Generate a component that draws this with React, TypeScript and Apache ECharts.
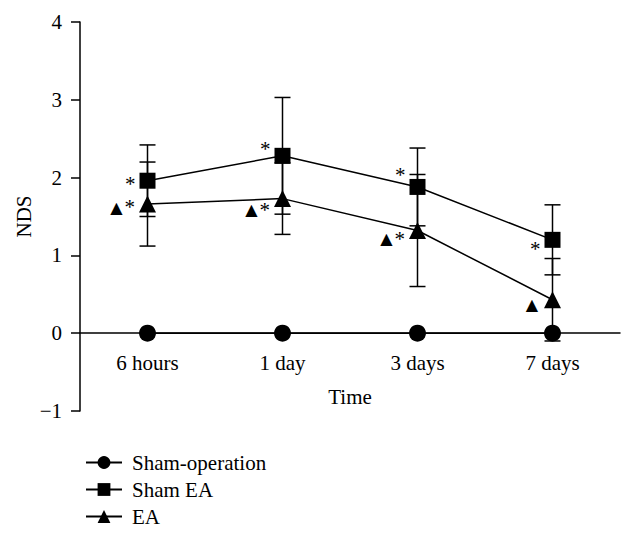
import React, { useEffect, useRef } from "react";
import * as echarts from "echarts";

const categories = ["6 hours", "1 day", "3 days", "7 days"];
const seriesNames = ["Sham-operation", "Sham EA", "EA"];
const shamOperation = [0, 0, 0, 0];
const shamEA = [1.96, 2.28, 1.88, 1.2];
const shamEASD = [0.46, 0.75, 0.5, 0.45];
const ea = [1.66, 1.73, 1.32, 0.43];
const eaSD = [0.54, 0.46, 0.72, 0.53];
const shamEAMarks = ["*", "*", "*", "*"];
const eaMarks = ["▲*", "▲*", "▲*", "▲"];
const yMin = -1;
const yMax = 4;
const yInterval = 1;

// layout / styling
const GRID_TOP = 22;
const GRID_BOTTOM = 128;
const CHART_H = 539;
const shamEAMarkOffsets = [[0, 3], [0, -7], [0, -12], [0, 9]];
const eaMarkOffsets = [[0, 3], [0, 11], [0, 8], [0, 5]];

const FONT = "Liberation Serif";
const FS = 21;

const errorRender = (params: any, api: any) => {
  const x = api.value(0);
  const lo = api.coord([x, api.value(1)]);
  const hi = api.coord([x, api.value(2)]);
  const w = 8;
  const style = { stroke: "#000", lineWidth: 1.5, fill: "none" };
  return {
    type: "group",
    children: [
      { type: "line", shape: { x1: lo[0], y1: lo[1], x2: hi[0], y2: hi[1] }, style },
      { type: "line", shape: { x1: lo[0] - w, y1: lo[1], x2: lo[0] + w, y2: lo[1] }, style },
      { type: "line", shape: { x1: hi[0] - w, y1: hi[1], x2: hi[0] + w, y2: hi[1] }, style },
    ],
  };
};

export default function App() {
  const ref = useRef<HTMLDivElement>(null);
  useEffect(() => {
    if (!ref.current) return;
    const chart = echarts.init(ref.current, undefined, { renderer: "svg" });
    const shamEAData = shamEA.map((v, i) => ({
      value: v,
      label: { formatter: shamEAMarks[i], offset: shamEAMarkOffsets[i] },
    }));
    const eaData = ea.map((v, i) => {
      const m = eaMarks[i];
      const f = m.replace("▲", "{t|▲}").replace("*", "{s|*}");
      return { value: v, label: { formatter: f, offset: eaMarkOffsets[i] } };
    });
    const gridH = CHART_H - GRID_TOP - GRID_BOTTOM;
    const zeroOffset = -(gridH * (0 - yMin)) / (yMax - yMin);
    const lineCommon = {
      type: "line",
      lineStyle: { color: "#000", width: 1.5 },
      itemStyle: { color: "#000" },
      z: 5,
    };
    chart.setOption({
      animation: false,
      textStyle: { fontFamily: FONT, color: "#000" },
      grid: { left: 80, right: 14, top: GRID_TOP, bottom: GRID_BOTTOM },
      xAxis: {
        type: "category",
        data: categories,
        name: "Time",
        nameLocation: "middle",
        nameGap: 53,
        nameMoveOverlap: false,
        offset: zeroOffset,
        nameTextStyle: { fontFamily: FONT, fontSize: FS, color: "#000" },
        axisLine: { onZero: false, lineStyle: { color: "#000", width: 1.5 } },
        axisTick: { show: true, alignWithLabel: true, length: 6, lineStyle: { color: "#000", width: 1.5 } },
        axisLabel: { fontFamily: FONT, fontSize: FS, color: "#000", margin: 19 },
      },
      yAxis: {
        type: "value",
        min: yMin,
        max: yMax,
        interval: yInterval,
        name: "NDS",
        nameLocation: "middle",
        nameGap: 46,
        nameMoveOverlap: false,
        nameTextStyle: { fontFamily: FONT, fontSize: FS, color: "#000" },
        splitLine: { show: false },
        axisLine: { show: true, lineStyle: { color: "#000", width: 1.5 } },
        axisTick: { show: true, length: 9, lineStyle: { color: "#000", width: 1.5 } },
        axisLabel: {
          fontFamily: FONT,
          fontSize: FS,
          color: "#000",
          margin: 18,
          formatter: (v: number) => (v < 0 ? "\u2212" + Math.abs(v) : String(v)),
        },
      },
      legend: {
        orient: "vertical",
        left: 80,
        top: 447,
        itemGap: 6,
        itemWidth: 36,
        itemHeight: 16,
        data: seriesNames,
        textStyle: { fontFamily: FONT, fontSize: FS, color: "#000", padding: [0, 0, 0, 5] },
      },
      series: [
        {
          name: "Sham EA error",
          type: "custom",
          renderItem: errorRender,
          data: shamEA.map((v, i) => [i, v - shamEASD[i], v + shamEASD[i]]),
          encode: { x: 0, y: [1, 2] },
          z: 2,
          silent: true,
        },
        {
          name: "EA error",
          type: "custom",
          renderItem: errorRender,
          data: ea.map((v, i) => [i, v - eaSD[i], v + eaSD[i]]),
          encode: { x: 0, y: [1, 2] },
          z: 2,
          silent: true,
        },
        {
          ...lineCommon,
          name: seriesNames[0],
          data: shamOperation,
          symbol: "circle",
          symbolSize: 17,
        },
        {
          ...lineCommon,
          name: seriesNames[1],
          data: shamEAData,
          symbol: "rect",
          symbolSize: 16,
          label: {
            show: true,
            position: "left",
            distance: 4,
            fontFamily: FONT,
            fontSize: FS,
            color: "#000",
          },
        },
        {
          ...lineCommon,
          name: seriesNames[2],
          data: eaData,
          symbol: "triangle",
          symbolSize: 17,
          label: {
            show: true,
            position: "left",
            distance: 4,
            color: "#000",
            rich: {
              t: { fontFamily: "DejaVu Sans", fontSize: 16, color: "#000", padding: [0, 2, 0, 0] },
              s: { fontFamily: FONT, fontSize: FS, color: "#000" },
            },
          },
        },
      ],
    });
    return () => chart.dispose();
  }, []);
  return (
    <div
      ref={ref}
      style={{ position: "absolute", left: 0, top: 0, width: 634, height: 539 }}
    />
  );
}
